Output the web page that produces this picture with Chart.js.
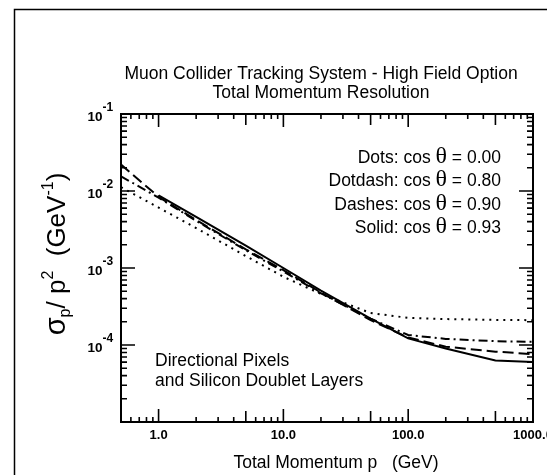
<!DOCTYPE html>
<html>
<head>
<meta charset="utf-8">
<title>Total Momentum Resolution</title>
<script src="https://cdn.jsdelivr.net/npm/chart.js@4.4.1/dist/chart.umd.min.js"></script>
<style>
  body { margin: 0; background: #fff; }
  canvas { display: block; }
</style>
</head>
<body>
<canvas id="res-chart" width="547" height="475"></canvas>
<script>
// momentum points (GeV) and sigma_p / p^2 (GeV^-1) for each polar angle
const momentum = [0.5, 1, 2, 5, 10, 20, 50, 100, 200, 500, 1000];
const dots    = [1.12e-2, 6.1e-3, 3.3e-3, 1.43e-3, 7.7e-4, 4.6e-4, 2.6e-4, 2.25e-4, 2.17e-4, 2.12e-4, 2.1e-4];
const dotdash = [1.55e-2, 8.2e-3, 4.1e-3, 1.7e-3, 9.0e-4, 4.7e-4, 2.2e-4, 1.35e-4, 1.2e-4, 1.12e-4, 1.1e-4];
const dashes  = [2.2e-2, 8.4e-3, 4.2e-3, 1.75e-3, 9.4e-4, 4.8e-4, 2.1e-4, 1.25e-4, 9.5e-5, 8.2e-5, 7.6e-5];
const solid   = [null, 8.8e-3, 4.6e-3, 1.95e-3, 1.0e-3, 5.1e-4, 2.2e-4, 1.22e-4, 9.0e-5, 6.3e-5, 6.0e-5];

// axis ticks
const xTickValues = [1, 10, 100, 1000];
const xTickLabels = ['1.0', '10.0', '100.0', '1000.0'];
const yExponents = [-1, -2, -3, -4];

const legendLines = [
  ['Dots: cos ', ' = 0.00'],
  ['Dotdash: cos ', ' = 0.80'],
  ['Dashes: cos ', ' = 0.90'],
  ['Solid: cos ', ' = 0.93']
];

const SANS = "'Liberation Sans', Arial, sans-serif";
const TEXT = '17.5px ' + SANS;

function toPoints(values) {
  return momentum.map((p, i) => ({ x: p, y: values[i] }));
}

// draws a row of text pieces with their own fonts
function drawRuns(ctx, runs, x, y, align) {
  let total = 0;
  for (const r of runs) {
    ctx.font = r.font;
    r.w = ctx.measureText(r.text).width;
    total += r.w;
  }
  let cx = align === 'right' ? x - total : align === 'center' ? x - total / 2 : x;
  ctx.textAlign = 'left';
  ctx.textBaseline = 'alphabetic';
  for (const r of runs) {
    ctx.font = r.font;
    ctx.fillText(r.text, cx, y + (r.dy || 0));
    cx += r.w;
  }
}

const frameAndText = {
  id: 'frameAndText',
  afterDraw(chart) {
    const { ctx, chartArea: a, scales: { x, y } } = chart;
    ctx.save();
    ctx.fillStyle = '#000';
    ctx.strokeStyle = '#000';

    // outer frame
    ctx.lineWidth = 1.5;
    ctx.strokeRect(14.5, 9.5, 700, 700);

    // plot box
    ctx.lineWidth = 2;
    ctx.strokeRect(a.left, a.top, a.right - a.left, a.bottom - a.top);

    // x ticks, bottom and top, pointing inward
    ctx.lineWidth = 1.6;
    ctx.beginPath();
    for (let d = 0.1; d <= 1000; d *= 10) {
      for (let m = 1; m < 10; m++) {
        const v = d * m;
        if (v < x.min * 0.999 || v > x.max * 1.001) continue;
        const len = m === 1 ? 13 : m === 5 ? 11 : 5;
        const px = x.getPixelForValue(v);
        ctx.moveTo(px, a.bottom);
        ctx.lineTo(px, a.bottom - len);
        ctx.moveTo(px, a.top);
        ctx.lineTo(px, a.top + len);
      }
    }
    // y ticks, left and right
    for (let e = -5; e < -1 + 0.5; e++) {
      for (let m = 1; m < 10; m++) {
        const v = m * Math.pow(10, e);
        if (v < y.min * 0.999 || v > y.max * 1.001) continue;
        const len = m === 1 ? 14 : 6;
        const py = y.getPixelForValue(v);
        ctx.moveTo(a.left, py);
        ctx.lineTo(a.left + len, py);
        ctx.moveTo(a.right, py);
        ctx.lineTo(a.right - len, py);
      }
    }
    ctx.stroke();

    // x tick labels
    ctx.font = 'bold 13px ' + SANS;
    ctx.textAlign = 'center';
    ctx.textBaseline = 'alphabetic';
    xTickValues.forEach((v, i) => {
      ctx.fillText(xTickLabels[i], x.getPixelForValue(v), a.bottom + 17);
    });

    // y tick labels 10^n
    yExponents.forEach(e => {
      const py = y.getPixelForValue(Math.pow(10, e));
      ctx.font = 'bold 13.5px ' + SANS;
      ctx.textAlign = 'right';
      ctx.fillText('10', 102.5, py + 7);
      ctx.font = 'bold 12px ' + SANS;
      ctx.textAlign = 'left';
      ctx.fillText(String(e), 102.5, py - 3);
    });

    // titles
    ctx.font = TEXT;
    ctx.textAlign = 'center';
    ctx.fillText('Muon Collider Tracking System - High Field Option', 321, 79);
    ctx.fillText('Total Momentum Resolution', 321, 98);

    // x axis title
    ctx.fillText('Total Momentum p   (GeV)', 336, 468);

    // legend, right aligned
    legendLines.forEach((parts, i) => {
      drawRuns(ctx, [
        { text: parts[0], font: TEXT },
        { text: '\u03B8', font: "24px 'Liberation Serif', serif" },
        { text: parts[1], font: TEXT }
      ], 501, 163 + i * 23.3, 'right');
    });

    // detector note
    ctx.font = TEXT;
    ctx.textAlign = 'left';
    ctx.fillText('Directional Pixels', 155, 366);
    ctx.fillText('and Silicon Doublet Layers', 155, 386);

    // y axis title, rotated
    ctx.save();
    ctx.translate(65, 254);
    ctx.rotate(-Math.PI / 2);
    drawRuns(ctx, [
      { text: '\u03C3', font: '29px ' + SANS },
      { text: 'p', font: '16px ' + SANS, dy: 5 },
      { text: '/ p', font: '26px ' + SANS },
      { text: '2', font: '16px ' + SANS, dy: -12 },
      { text: '  (GeV', font: '26px ' + SANS },
      { text: '-1', font: '16px ' + SANS, dy: -12 },
      { text: ')', font: '26px ' + SANS }
    ], 0, 0, 'center');
    ctx.restore();

    ctx.restore();
  }
};

const lineStyle = (values, dash) => ({
  data: toPoints(values),
  borderColor: '#000',
  borderWidth: 2,
  borderDash: dash,
  pointRadius: 0,
  tension: 0,
  fill: false,
  spanGaps: false
});

new Chart(document.getElementById('res-chart'), {
  type: 'line',
  data: {
    datasets: [
      lineStyle(dots, [2, 5]),
      lineStyle(dotdash, [9, 4, 2, 4]),
      lineStyle(dashes, [11, 5]),
      lineStyle(solid, [])
    ]
  },
  options: {
    responsive: false,
    animation: false,
    devicePixelRatio: 1,
    layout: { padding: { left: 121, top: 114, right: 14, bottom: 53 } },
    plugins: {
      legend: { display: false },
      tooltip: { enabled: false }
    },
    scales: {
      x: { type: 'logarithmic', min: 0.5, max: 1000, display: false },
      y: { type: 'logarithmic', min: 1e-5, max: 1e-1, display: false }
    }
  },
  plugins: [frameAndText]
});
</script>
</body>
</html>
